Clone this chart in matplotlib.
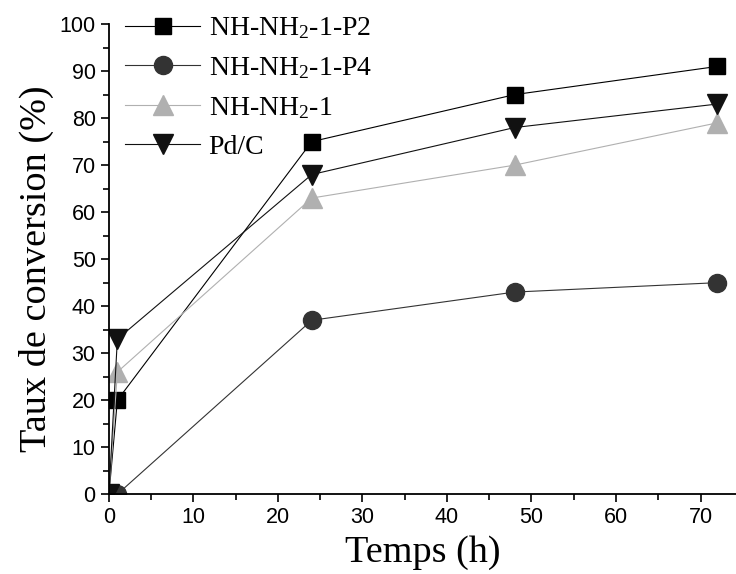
import matplotlib
matplotlib.use('Agg')
import matplotlib.pyplot as plt
from matplotlib.ticker import MultipleLocator

plt.rcParams['mathtext.fontset'] = 'custom'
plt.rcParams['mathtext.rm'] = 'Liberation Serif'
plt.rcParams['mathtext.it'] = 'Liberation Serif:italic'

# data
temps = [0, 1, 24, 48, 72]
p2 = [0, 20, 75, 85, 91]
p4 = [0, 0, 37, 43, 45]
nh1 = [0, 26, 63, 70, 79]
pdc = [0, 33, 68, 78, 83]

labels = [r'NH-NH$_2$-1-P2', r'NH-NH$_2$-1-P4', r'NH-NH$_2$-1', 'Pd/C']

fig = plt.figure(figsize=(7.36, 5.74), dpi=100)
ax = fig.add_axes([0.148, 0.139, 0.852, 0.819])

ax.plot(temps, p2, '-s', color='black', lw=0.8, ms=11, label=labels[0])
ax.plot(temps, p4, '-o', color='#333333', lw=0.8, ms=13, label=labels[1])
ax.plot(temps, nh1, '-^', color='#b0b0b0', lw=0.8, ms=14, label=labels[2])
ax.plot(temps, pdc, '-v', color='#111111', lw=0.8, ms=14, label=labels[3])

ax.set_xlim(0, 74.2)
ax.set_ylim(0, 100)
ax.xaxis.set_major_locator(MultipleLocator(10))
ax.xaxis.set_minor_locator(MultipleLocator(5))
ax.yaxis.set_major_locator(MultipleLocator(10))
ax.yaxis.set_minor_locator(MultipleLocator(5))
ax.tick_params(which='major', direction='out', length=6, width=1.2,
               labelsize=15.5)
ax.tick_params(which='minor', direction='out', length=4, width=1.2)
for lab in ax.get_xticklabels() + ax.get_yticklabels():
    lab.set_fontfamily('Liberation Sans')

ax.spines['top'].set_visible(False)
ax.spines['right'].set_visible(False)
ax.spines['left'].set_linewidth(1.3)
ax.spines['bottom'].set_linewidth(1.3)
for s in ('left', 'bottom'):
    ax.spines[s].set_clip_on(False)

ax.set_xlabel('Temps (h)', family='Liberation Serif', fontsize=27.5, labelpad=5)
ax.set_ylabel('Taux de conversion (%)', family='Liberation Serif', fontsize=27.5)
ax.yaxis.set_label_coords(-0.088, 0.48)

leg = ax.legend(loc='upper left', bbox_to_anchor=(-0.005, 1.06), frameon=False,
                prop={'family': 'Liberation Serif', 'size': 20},
                handlelength=2.7, handletextpad=0.3, labelspacing=0.5,
                borderaxespad=0.3)

fig.savefig('out.png', dpi=100)
